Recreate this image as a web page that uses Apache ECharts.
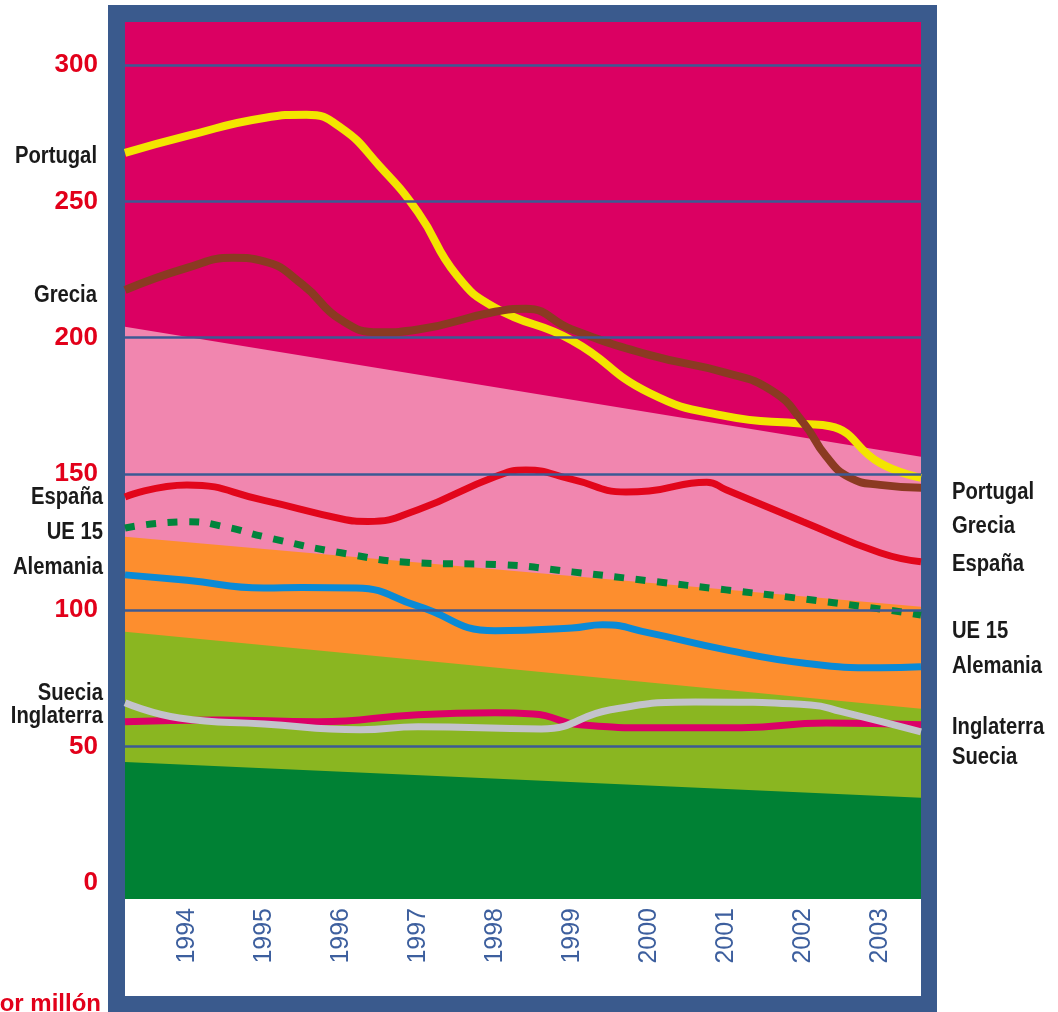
<!DOCTYPE html>
<html>
<head>
<meta charset="utf-8">
<script src="https://cdn.jsdelivr.net/npm/echarts@6/dist/echarts.min.js"></script>
<style>
  html, body { margin: 0; padding: 0; background: #fff; }
  #chart { width: 1058px; height: 1012px; }
</style>
</head>
<body>
<div id="chart"></div>
<script>
// axis ranges
var xMin = 1993.195, xMax = 2003.532;
var yMin = -5.9, yMax = 315.8;
var years = [1994, 1995, 1996, 1997, 1998, 1999, 2000, 2001, 2002, 2003];
var yTicks = [0, 50, 100, 150, 200, 250, 300];

// background bands (top edge at left / right end)
var bandMagenta = [[xMin, 320], [xMax, 320]];
var bandPink = [[xMin, 204], [xMax, 156.3]];
var bandOrange = [[xMin, 127], [xMax, 101.3]];
var bandLightGreen = [[xMin, 92.1], [xMax, 63.9]];
var bandDarkGreen = [[xMin, 44.4], [xMax, 31.2]];

// muertes por millón
var portugal = [[1993.195, 267.8], [1994, 274], [1995, 280.6], [1995.55, 281.8], [1996, 277],
  [1996.5, 263], [1997, 246], [1997.5, 223], [1998, 211], [1999, 199], [2000, 179.8],
  [2001, 171.2], [2002, 168.4], [2002.35, 167.5], [2003, 154], [2003.532, 148.6]];
var grecia = [[1993.195, 217.5], [1994, 225.6], [1994.6, 229.3], [1995, 228], [1995.5, 219.5],
  [1996, 206.5], [1996.5, 202], [1997, 203], [1998, 209.5], [1998.4, 210.6], [1999, 203],
  [2000, 193.7], [2001, 187.1], [2001.6, 180.5], [2002, 169], [2002.3, 156.5], [2002.6, 148.8],
  [2003, 146], [2003.532, 145]];
var espana = [[1993.195, 141.6], [1994, 146], [1995, 140.3], [1996, 133.6], [1996.35, 132.6],
  [1997, 136.9], [1998, 149], [1998.4, 151.5], [1999, 148], [1999.7, 143.4], [2000, 143.8],
  [2000.75, 147], [2001, 144.2], [2002, 132.5], [2003, 121.1], [2003.532, 117.8]];
var ue15 = [[1993.195, 130.2], [1994, 132.5], [1994.5, 130.6], [1995, 127], [1996, 121.1],
  [1997, 117.4], [1998.1, 116.7], [1999, 114.1], [2000, 110.8], [2001, 107.5], [2002, 104.2],
  [2003, 100.5], [2003.532, 98.3]];
var alemania = [[1993.195, 113], [1994, 111], [1995, 108.2], [1995.5, 108.4], [1996.2, 108.2],
  [1997, 101.5], [1998, 92.5], [1999, 93.5], [1999.4, 94.7], [2000, 91.7], [2001, 85.5],
  [2002, 80.7], [2003, 78.9], [2003.532, 79.3]];
var inglaterra = [[1993.195, 59.1], [1994.4, 59.8], [1995.7, 59.1], [1997, 61.7], [1998, 62.4],
  [1998.5, 62], [1999.1, 58], [2000.1, 56.9], [2001.2, 56.9], [2002.3, 58.7], [2003.532, 58]];
var suecia = [[1993.195, 66.1], [1993.9, 60.5], [1995, 58.3], [1996.25, 56.2], [1997, 57.3],
  [1998.6, 56.5], [1999.5, 63.5], [2000.6, 66.4], [2002.1, 65.3], [2002.5, 62.8], [2003.532, 55.4]];

var leftNames = ['Portugal', 'Grecia', 'España', 'UE 15', 'Alemania', 'Suecia', 'Inglaterra'];
var rightNames = ['Portugal', 'Grecia', 'España', 'UE 15', 'Alemania', 'Inglaterra', 'Suecia'];

var labelFont = "'Liberation Sans', Arial, sans-serif";
var frameBlue = '#3a5a8d';

var myChart = echarts.init(document.getElementById('chart'));

function band(name, data, color) {
  return {
    name: name, type: 'line', data: data, symbol: 'none', silent: true, z: 1,
    lineStyle: { width: 0 },
    areaStyle: { color: color, opacity: 1, origin: 'start' }
  };
}
function curve(name, data, color, width, dash) {
  return {
    name: name, type: 'line', data: data, symbol: 'none', smooth: 0.5, z: 3,
    lineStyle: { color: color, width: width, type: dash || 'solid', cap: 'butt' }
  };
}

// frame and label texts on both sides
var graphics = [
  { type: 'rect', z: -10, shape: { x: 108, y: 5, width: 829, height: 1010 }, style: { fill: frameBlue } },
  { type: 'rect', z: -9, shape: { x: 125, y: 22, width: 796, height: 974 }, style: { fill: '#ffffff' } },
  { type: 'text', x: 101, y: 992, style: { text: 'por millón', fill: '#e2001a', font: 'bold 24px ' + labelFont, align: 'right', verticalAlign: 'top' } }
];
var leftPos = [[97, 157], [97, 296], [103, 498], [103, 533], [103, 568], [103, 694], [103, 717]];
leftNames.forEach(function (n, i) {
  graphics.push({ type: 'text', x: leftPos[i][0], y: leftPos[i][1], scaleX: 0.88,
    style: { text: n, fill: '#1a1a1a', font: 'bold 23px ' + labelFont, align: 'right', verticalAlign: 'middle' } });
});
var rightY = [493, 527, 565, 632, 667, 728, 758];
rightNames.forEach(function (n, i) {
  graphics.push({ type: 'text', x: 952, y: rightY[i], scaleX: 0.88,
    style: { text: n, fill: '#1a1a1a', font: 'bold 23px ' + labelFont, align: 'left', verticalAlign: 'middle' } });
});

var gridLines = yTicks.slice(1).map(function (v) { return { yAxis: v }; });

option = {
  animation: false,
  backgroundColor: '#ffffff',
  grid: { left: 125, top: 22, width: 796, height: 877, outerBoundsMode: 'none' },
  xAxis: {
    type: 'value', min: xMin, max: xMax,
    axisLine: { show: false }, axisTick: { show: false }, splitLine: { show: false },
    axisLabel: {
      customValues: years, rotate: 90, margin: 9, color: '#3d5f9e', fontSize: 25,
      fontFamily: labelFont,
      formatter: function (v) { return Math.round(v) + ''; }
    }
  },
  yAxis: {
    type: 'value', min: yMin, max: yMax,
    axisLine: { show: false }, axisTick: { show: false }, splitLine: { show: false },
    axisLabel: {
      customValues: yTicks, margin: 27, color: '#e2001a', fontSize: 26, fontWeight: 'bold',
      fontFamily: labelFont
    }
  },
  graphic: graphics,
  series: [
    band('fondo1', bandMagenta, '#db0062'),
    band('fondo2', bandPink, '#f186af'),
    band('fondo3', bandOrange, '#fd8e2e'),
    band('fondo4', bandLightGreen, '#8ab621'),
    band('fondo5', bandDarkGreen, '#008134'),
    curve('Portugal', portugal, '#f3e500', 8),
    curve('Grecia', grecia, '#8b3a22', 8),
    curve('España', espana, '#e2061b', 7),
    curve('UE 15', ue15, '#00843c', 7, [10, 11.5]),
    curve('Alemania', alemania, '#0a8ad6', 7),
    curve('Inglaterra', inglaterra, '#dc0068', 7),
    curve('Suecia', suecia, '#c3c3cb', 7),
    {
      name: 'rejilla', type: 'line', data: [], z: 4, silent: true,
      markLine: {
        silent: true, symbol: 'none', label: { show: false },
        lineStyle: { color: '#3c5a94', width: 2.5, type: 'solid' },
        data: gridLines
      }
    }
  ]
};

myChart.setOption(option);
</script>
</body>
</html>
